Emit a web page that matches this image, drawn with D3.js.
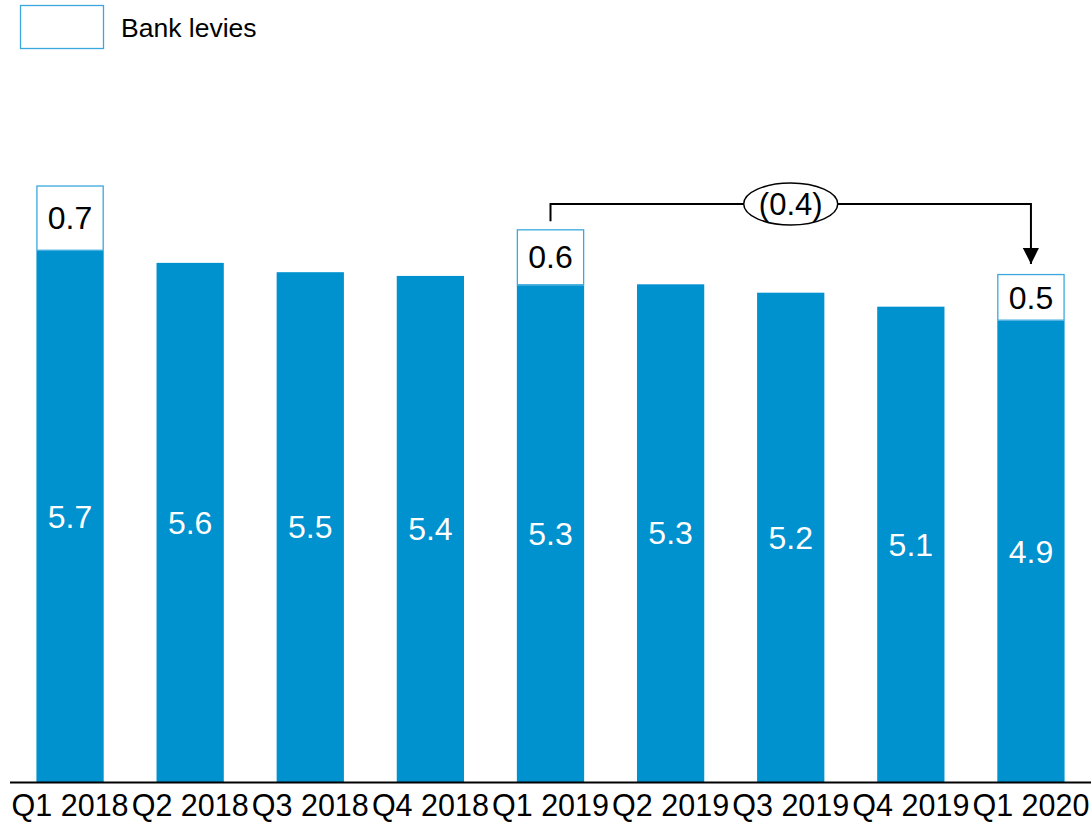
<!DOCTYPE html>
<html>
<head>
<meta charset="utf-8">
<script src="https://cdn.jsdelivr.net/npm/d3@7"></script>
<style>
  body { margin: 0; background: #fff; }
  svg { font-family: "Liberation Sans", Arial, sans-serif; }
</style>
</head>
<body>
<svg id="chart" width="1091" height="823"></svg>
<script>
// quarters on the x axis
const quarters = ['Q1 2018','Q2 2018','Q3 2018','Q4 2018','Q1 2019','Q2 2019','Q3 2019','Q4 2019','Q1 2020'];
// base costs (blue bars)
const baseValues = [5.70, 5.57, 5.47, 5.43, 5.33, 5.34, 5.25, 5.10, 4.95];
const baseLabels = ['5.7','5.6','5.5','5.4','5.3','5.3','5.2','5.1','4.9'];
// bank levies only in the first quarter of each year
const levyValues = [0.7, 0, 0, 0, 0.6, 0, 0, 0, 0.5];
const levyLabels = ['0.7','','','','0.6','','','','0.5'];
const changeLabel = '(0.4)';

const width = 1091, height = 823;
const blue = '#0091cf';
const svg = d3.select('#chart');

const x = d3.scaleBand()
    .domain(quarters)
    .range([10, 1091])
    .paddingInner(0.44)
    .paddingOuter(0.22);

const y = d3.scaleLinear()
    .domain([0, 6.4])
    .range([782, 782 - 6.4 * 93.2]);

const data = quarters.map((q, i) => ({
  q, base: baseValues[i], levy: levyValues[i], bl: baseLabels[i], ll: levyLabels[i]
}));

// blue bars
svg.selectAll('rect.base')
  .data(data)
  .join('rect')
  .attr('class', 'base')
  .attr('x', d => x(d.q))
  .attr('y', d => y(d.base))
  .attr('width', x.bandwidth())
  .attr('height', d => y(0) - y(d.base))
  .attr('fill', blue);

svg.selectAll('text.base')
  .data(data)
  .join('text')
  .attr('class', 'base')
  .attr('x', d => x(d.q) + x.bandwidth() / 2)
  .attr('y', d => (y(0) + y(d.base)) / 2)
  .attr('dy', '0.35em')
  .attr('text-anchor', 'middle')
  .attr('fill', '#fff')
  .attr('font-size', 32)
  .text(d => d.bl);

// levy boxes
const levies = data.filter(d => d.levy > 0);
svg.selectAll('rect.levy')
  .data(levies)
  .join('rect')
  .attr('class', 'levy')
  .attr('x', d => x(d.q) + 0.5)
  .attr('y', d => y(d.base + d.levy) + 0.5)
  .attr('width', x.bandwidth() - 1)
  .attr('height', d => y(d.base) - y(d.base + d.levy) - 1)
  .attr('fill', '#fff')
  .attr('stroke', '#3aa8de')
  .attr('stroke-width', 1.3);

svg.selectAll('text.levy')
  .data(levies)
  .join('text')
  .attr('class', 'levy')
  .attr('x', d => x(d.q) + x.bandwidth() / 2)
  .attr('y', d => (y(d.base) + y(d.base + d.levy)) / 2)
  .attr('dy', '0.35em')
  .attr('text-anchor', 'middle')
  .attr('fill', '#000')
  .attr('font-size', 32)
  .text(d => d.ll);

// x axis
const axis = svg.append('g')
  .attr('transform', `translate(0,${y(0)})`)
  .call(d3.axisBottom(x).tickSize(0).tickPadding(12));
axis.select('.domain').attr('d', 'M10,0.5H1091').attr('stroke', '#000').attr('stroke-width', 2);
axis.selectAll('text')
  .attr('font-size', 30.5)
  .attr('font-family', '"Liberation Sans", Arial, sans-serif')
  .attr('fill', '#000');

// change bracket between Q1 2019 and Q1 2020
const a = data[4], b = data[8];
const xa = x(a.q) + x.bandwidth() / 2;
const xb = x(b.q) + x.bandwidth() / 2;
const yTop = 204;
svg.append('defs').append('marker')
  .attr('id', 'arrow')
  .attr('viewBox', '0 0 10 10')
  .attr('refX', 10).attr('refY', 5)
  .attr('markerWidth', 16).attr('markerHeight', 16)
  .attr('markerUnits', 'userSpaceOnUse')
  .attr('orient', 'auto')
  .append('path').attr('d', 'M0,0L10,5L0,10Z').attr('fill', '#000');

svg.append('path')
  .attr('d', `M${xa},${y(a.base + a.levy) - 8}V${yTop}H${xb}V${y(b.base + b.levy) - 10}`)
  .attr('fill', 'none')
  .attr('stroke', '#000')
  .attr('stroke-width', 2)
  .attr('marker-end', 'url(#arrow)');

const cx = (xa + xb) / 2;
svg.append('ellipse')
  .attr('cx', cx).attr('cy', yTop)
  .attr('rx', 47).attr('ry', 21)
  .attr('fill', '#fff')
  .attr('stroke', '#000')
  .attr('stroke-width', 1.5);
svg.append('text')
  .attr('x', cx).attr('y', yTop)
  .attr('dy', '0.35em')
  .attr('text-anchor', 'middle')
  .attr('font-size', 31)
  .text(changeLabel);

// legend
svg.append('rect')
  .attr('x', 20.5).attr('y', 5.5)
  .attr('width', 83).attr('height', 43)
  .attr('fill', '#fff')
  .attr('stroke', '#3aa8de')
  .attr('stroke-width', 1.3);
svg.append('text')
  .attr('x', 121).attr('y', 28)
  .attr('dy', '0.35em')
  .attr('font-size', 26.5)
  .text('Bank levies');
</script>
</body>
</html>
